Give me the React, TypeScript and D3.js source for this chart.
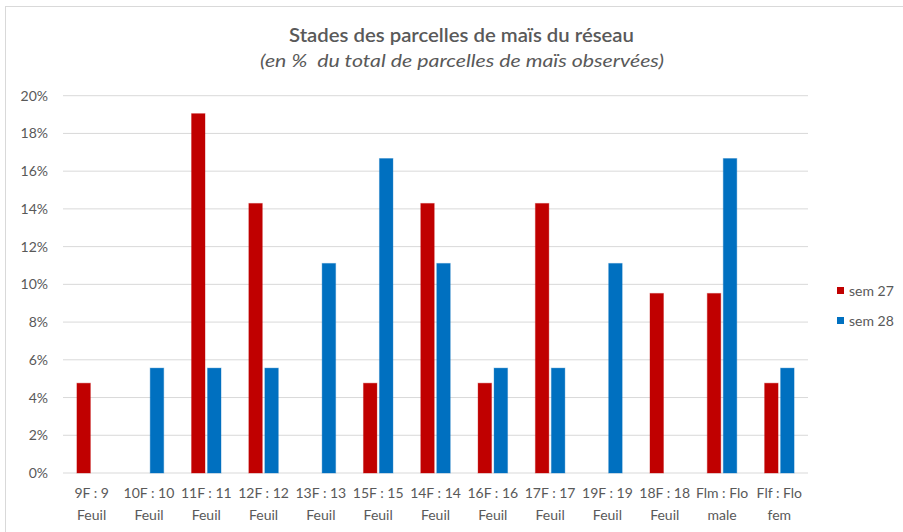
import React from "react";
import * as d3 from "d3";

const categories = [
  ["9F : 9", "Feuil"],
  ["10F : 10", "Feuil"],
  ["11F : 11", "Feuil"],
  ["12F : 12", "Feuil"],
  ["13F : 13", "Feuil"],
  ["15F : 15", "Feuil"],
  ["14F : 14", "Feuil"],
  ["16F : 16", "Feuil"],
  ["17F : 17", "Feuil"],
  ["19F : 19", "Feuil"],
  ["18F : 18", "Feuil"],
  ["Flm : Flo", "male"],
  ["Flf : Flo", "fem"],
];
const sem27 = [4.76, 0, 19.05, 14.29, 0, 4.76, 14.29, 4.76, 14.29, 0, 9.52, 9.52, 4.76];
const sem28 = [0, 5.56, 5.56, 5.56, 11.11, 16.67, 11.11, 5.56, 5.56, 11.11, 0, 16.67, 5.56];
const seriesNames = ["sem 27", "sem 28"];
const yTicks = [0, 2, 4, 6, 8, 10, 12, 14, 16, 18, 20];
const title = "Stades des parcelles de maïs du réseau";
const subtitle = "(en %  du total de parcelles de maïs observées)";

const W = 903;
const H = 532;
const colors = ["#C00000", "#0070C0"];
const font = "Lato, 'Open Sans', sans-serif";

export default function App() {
  const left = 63, right = 808, top = 95.7, bottom = 473;
  const x = d3.scaleBand<number>().domain(categories.map((_, i) => i)).range([left, right]).padding(0);
  const y = d3.scaleLinear().domain([0, 20]).range([bottom, top]);
  const barW = 13.5;
  const gap = 2.5;
  const series = [sem27, sem28];

  return (
    <svg width={W} height={H} style={{ position: "absolute", left: 0, top: 0, background: "#fff" }}>
      <rect x={5.5} y={6.5} width={W - 4} height={H - 2} fill="#fff" stroke="#d9d9d9" />
      <text x={289} y={42} fontFamily={font} fontSize={20} fontWeight={600} fill="#595959"
        textLength={345} lengthAdjust="spacingAndGlyphs">
        {title}
      </text>
      <text x={260} y={67} fontFamily={font} fontSize={18} fontStyle="italic" fill="#595959"
        textLength={404} lengthAdjust="spacingAndGlyphs" style={{ whiteSpace: "pre" }}>
        {subtitle}
      </text>
      {yTicks.map((t) => (
        <g key={t}>
          <line x1={left} x2={right} y1={y(t)} y2={y(t)} stroke="#d9d9d9" strokeWidth={1} />
          <text x={48} y={y(t) + 5} textAnchor="end" fontFamily={font} fontSize={14} fill="#595959">
            {t}%
          </text>
        </g>
      ))}
      {categories.map((c, i) => {
        const cx = (x(i) as number) + x.bandwidth() / 2;
        return (
          <g key={i}>
            {series.map((s, si) => {
              const v = s[i];
              if (!v) return null;
              const bx = si === 0 ? cx - gap / 2 - barW : cx + gap / 2;
              return (
                <rect key={si} x={bx} y={y(v)} width={barW} height={y(0) - y(v)} fill={colors[si]}
                  stroke={colors[si]} strokeOpacity={0.35} strokeWidth={1} />
              );
            })}
            <text x={cx} y={498} textAnchor="middle" fontFamily={font} fontSize={14} fill="#595959"
              style={{ whiteSpace: "pre" }}>{c[0]}</text>
            <text x={cx} y={520} textAnchor="middle" fontFamily={font} fontSize={14} fill="#595959">{c[1]}</text>
          </g>
        );
      })}
      {seriesNames.map((n, i) => (
        <g key={n}>
          <rect x={837} y={287 + i * 30} width={7} height={7} fill={colors[i]} />
          <text x={849} y={296 + i * 30} fontFamily={font} fontSize={14} fill="#595959">{n}</text>
        </g>
      ))}
    </svg>
  );
}
